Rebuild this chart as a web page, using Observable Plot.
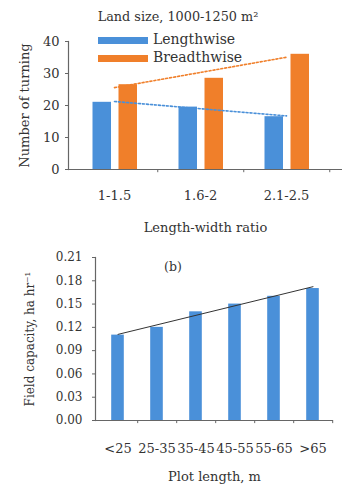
<!DOCTYPE html>
<html>
<head>
<meta charset="utf-8">
<script src="https://cdn.jsdelivr.net/npm/d3@7"></script>
<script src="https://cdn.jsdelivr.net/npm/@observablehq/plot@0.6"></script>
<style>
  html, body { margin: 0; padding: 0; background: #fff; }
  #wrap { position: relative; width: 343px; height: 485px; overflow: hidden; font-family: "DejaVu Serif", serif; color: #333; }
  #chartA, #chartB { position: absolute; left: 0; }
  #chartA { top: 0; }
  #chartB { top: 240px; }
  .ov { position: absolute; white-space: nowrap; color: #333; }
  .sw { position: absolute; }
</style>
</head>
<body>
<div id="wrap">
  <div id="chartA"></div>
  <div id="chartB"></div>
  <div class="ov" style="left:0;width:356px;text-align:center;top:9px;font-size:12.8px;">Land size, 1000-1250 m²</div>
  <div class="sw" style="left:98px;top:37px;width:50px;height:7px;background:#4a90d9;"></div>
  <div class="ov" style="left:153px;top:31px;font-size:14px;">Lengthwise</div>
  <div class="sw" style="left:98px;top:55px;width:50px;height:7px;background:#f07f2a;"></div>
  <div class="ov" style="left:153px;top:49px;font-size:14px;">Breadthwise</div>
  <div class="ov" style="left:164px;top:259px;font-size:12.5px;">(b)</div>
</div>
<script>
// ---- Data ----
const ratios = ["1-1.5", "1.6-2", "2.1-2.5"];
const lengthwise = [21, 19.5, 16.5];
const breadthwise = [26.5, 28.5, 36];
const yTicksA = [0, 10, 20, 30, 40];

const plotLengths = ["<25", "25-35", "35-45", "45-55", "55-65", ">65"];
const fieldCapacity = [0.11, 0.12, 0.14, 0.15, 0.16, 0.17];
const yTicksB = [0, 0.03, 0.06, 0.09, 0.12, 0.15, 0.18, 0.21];

// least-squares linear trend (Excel-style trendline) of a series over its category index
function trend(values) {
  const n = values.length;
  const mx = (n - 1) / 2;
  const my = d3.mean(values);
  let sxy = 0, sxx = 0;
  values.forEach((v, i) => { sxy += (i - mx) * (v - my); sxx += (i - mx) ** 2; });
  const b = sxy / sxx;
  return values.map((v, i) => my + b * (i - mx));
}

const dataA = ratios.map((r, i) => ({ratio: r, lengthwise: lengthwise[i], breadthwise: breadthwise[i]}));
const trendL = trend(lengthwise).map((v, i) => ({ratio: ratios[i], v}));
const trendB = trend(breadthwise).map((v, i) => ({ratio: ratios[i], v}));

const dataB = plotLengths.map((p, i) => ({len: p, fc: fieldCapacity[i]}));
const trendFC = trend(fieldCapacity).map((v, i) => ({len: plotLengths[i], v}));

const axisColor = "#666";
const blue = "#4a90d9";
const orange = "#f07f2a";

const plotA = Plot.plot({
  width: 343, height: 240,
  marginLeft: 68, marginRight: 1, marginTop: 41, marginBottom: 71,
  style: {fontFamily: "DejaVu Serif, serif", fontSize: "13px", color: "#333", background: "transparent", overflow: "visible"},
  x: {domain: ratios, range: [70.5, 330], padding: 0},
  y: {domain: [0, 40]},
  marks: [
    Plot.barY(dataA, {x: "ratio", y: "lengthwise", fill: blue, insetLeft: 21.5, insetRight: 46}),
    Plot.barY(dataA, {x: "ratio", y: "breadthwise", fill: orange, insetLeft: 47.5, insetRight: 20}),
    Plot.line(trendL, {x: "ratio", y: "v", stroke: blue, strokeWidth: 1.6, strokeDasharray: "2,2"}),
    Plot.line(trendB, {x: "ratio", y: "v", stroke: orange, strokeWidth: 1.6, strokeDasharray: "2,2"}),
    Plot.ruleY([0], {stroke: axisColor, strokeWidth: 1.2}),
    Plot.frame({anchor: "left", stroke: axisColor, strokeWidth: 1.2}),
    Plot.ruleX(ratios, {x: d => d, y1: 0, y2: -1, dx: 43.25, stroke: axisColor}),
    Plot.axisY({ticks: yTicksA, tickSize: 3, tickPadding: 6, stroke: axisColor,
      label: "Number of turning", labelAnchor: "center", labelOffset: 49, labelArrow: "none"}),
    Plot.axisX({tickSize: 0, tickPadding: 21,
      label: "Length-width ratio", labelAnchor: "center", labelOffset: 62, labelArrow: "none"})
  ]
});
document.getElementById("chartA").appendChild(plotA);

const plotB = Plot.plot({
  width: 343, height: 245,
  marginLeft: 95, marginRight: 10, marginTop: 17, marginBottom: 65,
  style: {fontFamily: "DejaVu Serif, serif", fontSize: "12px", color: "#333", background: "transparent", overflow: "visible"},
  x: {domain: plotLengths, range: [96.5, 333], padding: 0},
  y: {domain: [0, 0.21]},
  marks: [
    Plot.barY(dataB, {x: "len", y: "fc", fill: blue, insetLeft: 13.2, insetRight: 13.2}),
    Plot.line(trendFC, {x: "len", y: "v", stroke: "#333", strokeWidth: 1}),
    Plot.ruleY([0], {stroke: axisColor, strokeWidth: 1.2}),
    Plot.frame({anchor: "left", stroke: axisColor, strokeWidth: 1.2}),
    Plot.ruleX(plotLengths, {x: d => d, y1: 0, y2: -0.004, dx: 19.7, stroke: axisColor}),
    Plot.axisY({ticks: yTicksB, tickFormat: d3.format(".2f"), tickSize: 3, tickPadding: 10, stroke: axisColor,
      label: "Field capacity, ha hr⁻¹", labelAnchor: "center", labelOffset: 70, labelArrow: "none"}),
    Plot.axisX({tickSize: 0, tickPadding: 23, fontSize: 13,
      label: "Plot length, m", labelAnchor: "center", labelOffset: 60, labelArrow: "none"})
  ]
});
document.getElementById("chartB").appendChild(plotB);
</script>
</body>
</html>
